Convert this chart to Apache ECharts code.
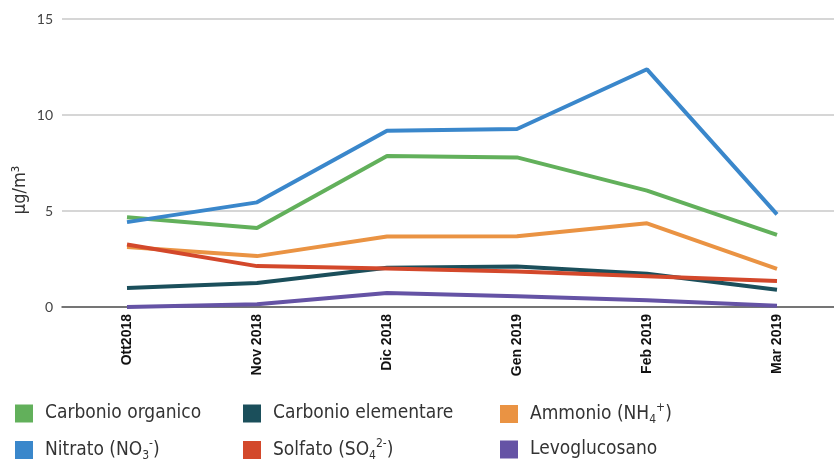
<!DOCTYPE html>
<html>
<head>
<meta charset="utf-8">
<script src="https://cdn.jsdelivr.net/npm/echarts@6/dist/echarts.min.js"></script>
<style>
html,body{margin:0;padding:0;background:#fff;}
#chart{width:834px;height:461px;}
</style>
</head>
<body>
<div id="chart"></div>
<script>
const categories = ['Ott2018', 'Nov 2018', 'Dic 2018', 'Gen 2019', 'Feb 2019', 'Mar 2019'];
const yTicks = [0, 5, 10, 15];
const yAxisTitle = 'µg/m³';

const carbonioOrganico   = [4.68, 4.12, 7.86, 7.79, 6.06, 3.76];
const carbonioElementare = [0.99, 1.25, 2.05, 2.11, 1.73, 0.90];
const ammonio            = [3.12, 2.65, 3.67, 3.69, 4.36, 1.99];
const nitrato            = [4.42, 5.45, 9.18, 9.27, 12.38, 4.82];
const solfato            = [3.26, 2.13, 2.00, 1.85, 1.60, 1.35];
const levoglucosano      = [0.00, 0.14, 0.73, 0.56, 0.35, 0.07];

const seriesNames = ['Carbonio organico', 'Carbonio elementare', 'Ammonio (NH4+)', 'Nitrato (NO3-)', 'Solfato (SO42-)', 'Levoglucosano'];
const seriesData = [carbonioOrganico, carbonioElementare, ammonio, nitrato, solfato, levoglucosano];
const colors = ['#62b05b', '#1b4f5b', '#ea9343', '#3a87cb', '#d3482b', '#6553a5'];
const legendLabels = {
  'Carbonio organico': '{t|Carbonio organico}',
  'Carbonio elementare': '{t|Carbonio elementare}',
  'Ammonio (NH4+)': '{t|Ammonio (NH}{s|4}{p|+}{t|)}',
  'Nitrato (NO3-)': '{t|Nitrato (NO}{s|3}{p|-}{t|)}',
  'Solfato (SO42-)': '{t|Solfato (SO}{s|4}{p|2-}{t|)}',
  'Levoglucosano': '{t|Levoglucosano}'
};

const legendFont = '"Liberation Sans Narrow", "DejaVu Sans Condensed", "Roboto", sans-serif';
const rich = {
  t: {fontSize: 19, fontFamily: legendFont, color: '#333', lineHeight: 24},
  s: {fontSize: 12, fontFamily: legendFont, color: '#333', verticalAlign: 'bottom', lineHeight: 24, padding: [12, 0, 0, 0]},
  p: {fontSize: 12, fontFamily: legendFont, color: '#333', verticalAlign: 'top', lineHeight: 24, padding: [0, 0, 10, 0]}
};
const legendPos = [[15, 404], [243, 404], [500, 402], [15, 438], [243, 438], [500, 440]];

const chart = echarts.init(document.getElementById('chart'));
const gridTop = 19, gridBottom = 154;

chart.setOption({
  animation: false,
  color: colors,
  grid: [
    {left: 127, right: 57, top: gridTop, bottom: gridBottom},
    {left: 62, right: 0, top: gridTop, bottom: gridBottom}
  ],
  xAxis: [
    {
      type: 'category', gridIndex: 0, data: categories, boundaryGap: false,
      axisLine: {show: false}, axisTick: {show: false},
      axisLabel: {rotate: 90, margin: 7, fontSize: 14, fontWeight: 'bold', color: '#111', fontFamily: '"Liberation Sans Narrow", "Liberation Sans", Arial, sans-serif', interval: 0}
    },
    {
      type: 'value', gridIndex: 1, min: 0, max: 1,
      axisLine: {show: true, lineStyle: {color: '#555', width: 1.5}},
      axisTick: {show: false}, axisLabel: {show: false}, splitLine: {show: false}
    }
  ],
  yAxis: [
    {type: 'value', gridIndex: 0, min: yTicks[0], max: yTicks[yTicks.length - 1], interval: 5, show: false},
    {
      type: 'value', gridIndex: 1, min: yTicks[0], max: yTicks[yTicks.length - 1], interval: 5,
      axisLine: {show: false}, axisTick: {show: false},
      axisLabel: {margin: 9, fontSize: 14, color: '#444', fontFamily: 'Lato, "Noto Sans", sans-serif'},
      splitLine: {lineStyle: {color: '#c8c8c8', width: 1.5}}
    }
  ],
  graphic: [{
    type: 'text', x: 20, y: 190, rotation: Math.PI / 2,
    style: {text: yAxisTitle, fontSize: 18, fill: '#333', fontFamily: legendFont, align: 'center', verticalAlign: 'middle'}
  }],
  legend: seriesNames.map((n, i) => ({
    data: [n], left: legendPos[i][0], top: legendPos[i][1], padding: 0,
    icon: 'rect', itemWidth: 18, itemHeight: 18, itemGap: 12,
    selectedMode: false,
    formatter: name => legendLabels[name],
    textStyle: {rich: rich, padding: [0, 0, 0, 7]}
  })),
  series: seriesNames.map((n, i) => ({
    name: n, type: 'line', xAxisIndex: 0, yAxisIndex: 0,
    data: seriesData[i], showSymbol: false, symbol: 'none',
    lineStyle: {width: 4, color: colors[i]}, itemStyle: {color: colors[i]},
    z: 2 + i
  }))
});
</script>
</body>
</html>
